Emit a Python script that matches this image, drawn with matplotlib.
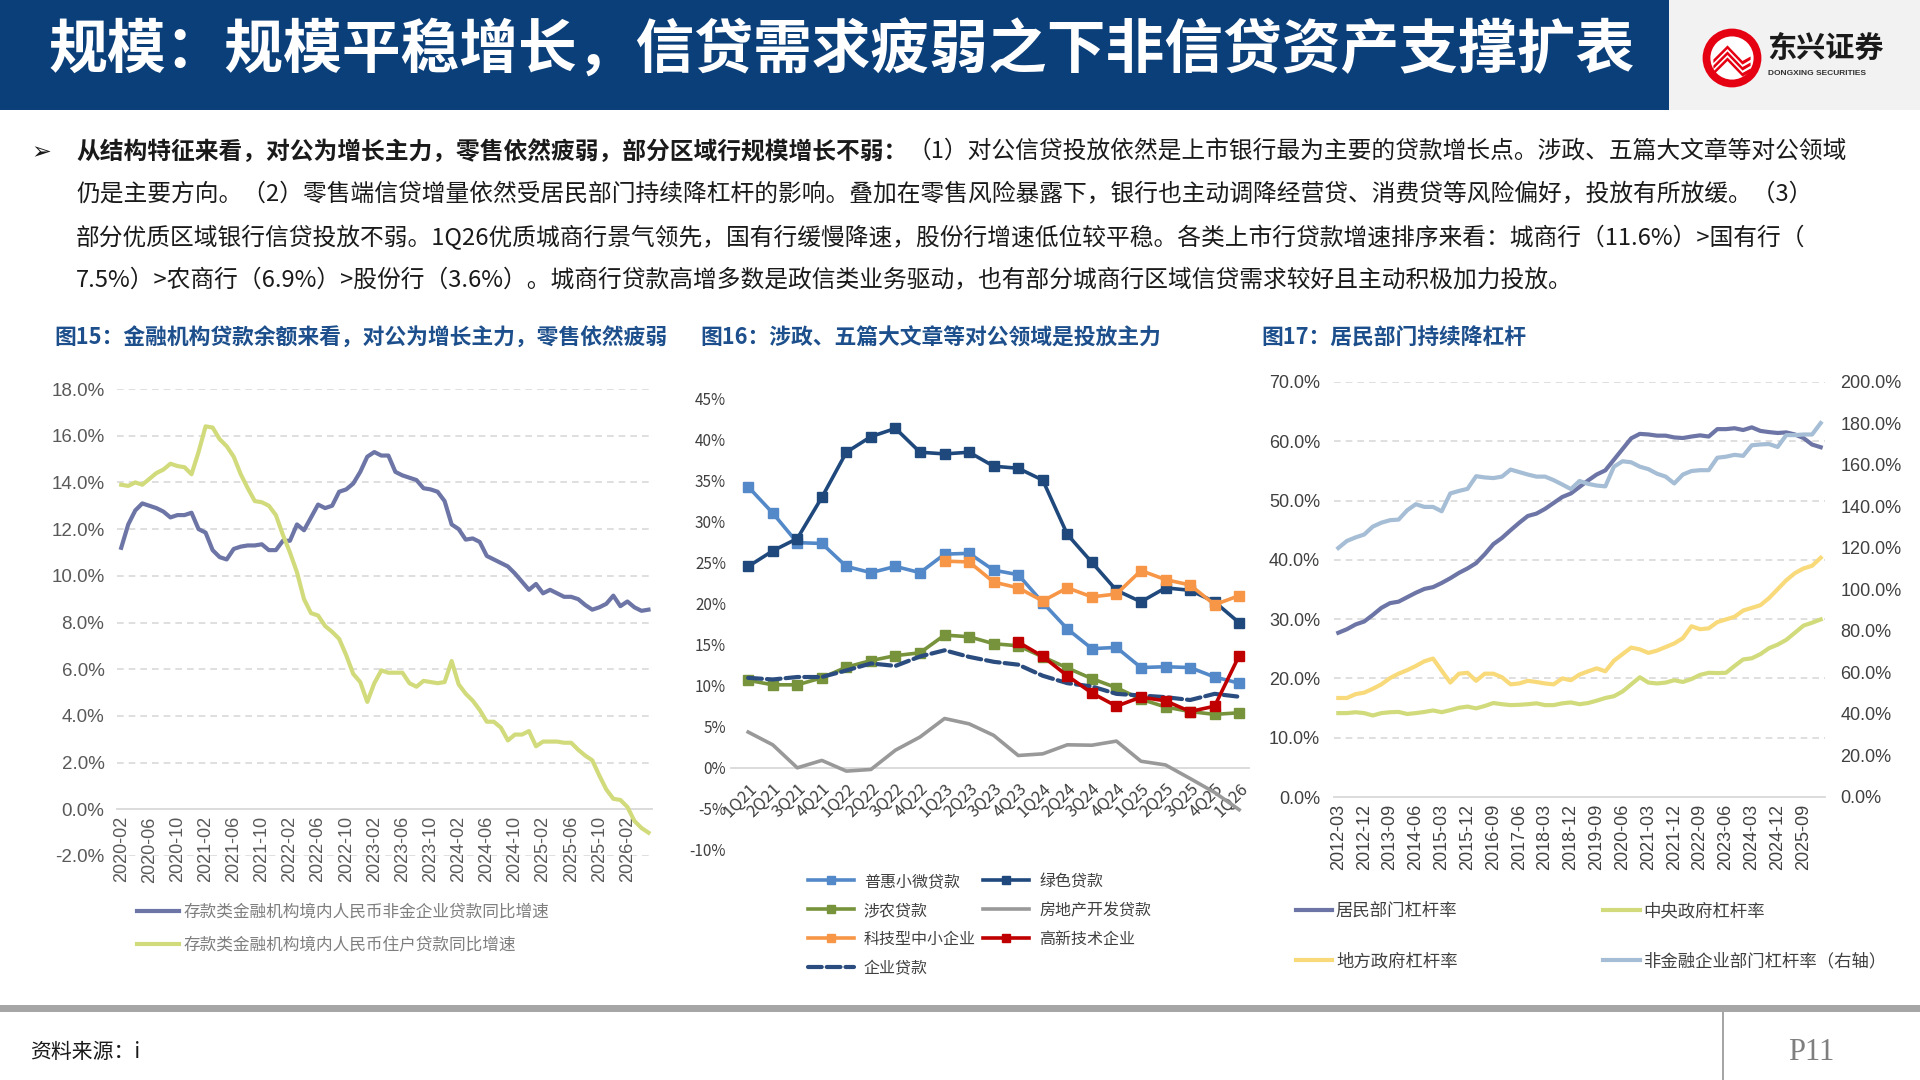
import matplotlib
matplotlib.use('Agg')
import matplotlib.pyplot as plt
from matplotlib.patches import Rectangle, Circle, Polygon
import numpy as np
import pandas as pd

plt.rcParams['font.family'] = ['Noto Sans CJK SC', 'DejaVu Sans']
plt.rcParams['axes.unicode_minus'] = False

# ---------------- data ----------------
# Fig 15 (monthly, 2020-02 .. 2026-05)
months15 = [p.strftime('%Y-%m') for p in pd.period_range('2020-02', '2026-05', freq='M')]
corp_loan_yoy = [11.2, 12.2, 12.8, 13.1, 13.0, 12.9, 12.75, 12.5, 12.6, 12.6, 12.7,
                 12.0, 11.85, 11.1, 10.8, 10.7, 11.15, 11.25, 11.3, 11.3, 11.35, 11.1, 11.1,
                 11.5, 11.5, 12.2, 11.95, 12.5, 13.05, 12.9, 13.0, 13.6, 13.7, 13.95, 14.45,
                 15.1, 15.3, 15.15, 15.15, 14.45, 14.3, 14.2, 14.1, 13.75, 13.7, 13.6, 13.2,
                 12.2, 12.0, 11.55, 11.6, 11.45, 10.85, 10.7, 10.55, 10.4, 10.1, 9.75, 9.4,
                 9.65, 9.25, 9.4, 9.25, 9.1, 9.1, 9.0, 8.75, 8.55, 8.65, 8.8, 9.15,
                 8.7, 8.9, 8.65, 8.5, 8.55]
household_loan_yoy = [13.9, 13.85, 14.0, 13.9, 14.15, 14.4, 14.55, 14.8, 14.7, 14.65, 14.35,
                      15.3, 16.4, 16.35, 15.85, 15.55, 15.1, 14.35, 13.75, 13.2, 13.15, 13.0, 12.6,
                      11.75, 11.0, 10.15, 9.0, 8.4, 8.3, 7.85, 7.6, 7.3, 6.6, 5.8, 5.45,
                      4.6, 5.4, 5.95, 5.85, 5.85, 5.85, 5.4, 5.25, 5.5, 5.45, 5.4, 5.45,
                      6.35, 5.35, 4.95, 4.65, 4.25, 3.75, 3.75, 3.5, 2.95, 3.2, 3.2, 3.35,
                      2.7, 2.9, 2.9, 2.9, 2.85, 2.85, 2.55, 2.3, 2.1, 1.45, 0.85, 0.45,
                      0.4, 0.1, -0.5, -0.8, -1.0]
names15 = ['存款类金融机构境内人民币非金企业贷款同比增速', '存款类金融机构境内人民币住户贷款同比增速']

# Fig 16 (quarterly, 1Q21 .. 1Q26)
quarters16 = ['1Q21', '2Q21', '3Q21', '4Q21', '1Q22', '2Q22', '3Q22', '4Q22', '1Q23', '2Q23', '3Q23',
              '4Q23', '1Q24', '2Q24', '3Q24', '4Q24', '1Q25', '2Q25', '3Q25', '4Q25', '1Q26']
inclusive_sme = [34.2, 31.0, 27.4, 27.3, 24.5, 23.75, 24.5, 23.75, 26.0, 26.1, 24.05,
                 23.5, 20.1, 16.9, 14.5, 14.65, 12.2, 12.3, 12.2, 11.05, 10.3]
green_loan = [24.5, 26.4, 27.9, 32.9, 38.4, 40.3, 41.3, 38.4, 38.2, 38.4, 36.7,
              36.45, 35.0, 28.4, 25.0, 21.6, 20.2, 21.9, 21.6, 20.2, 17.65]
agri_loan = [10.65, 10.1, 10.1, 10.95, 12.25, 13.05, 13.65, 14.0, 16.15, 15.95, 15.1,
             14.85, 13.5, 12.15, 10.85, 9.75, 8.35, 7.4, 6.85, 6.5, 6.7]
real_estate_loan = [4.35, 2.8, 0.0, 0.9, -0.4, -0.2, 2.15, 3.75, 6.0, 5.35, 3.95,
                    1.5, 1.7, 2.8, 2.75, 3.25, 0.8, 0.35, -1.3, -3.0, -5.1]
tech_sme_start = '1Q23'
tech_sme = [25.15, 25.05, 22.6, 21.9, 20.3, 21.9, 20.8, 21.15, 24.0, 22.9, 22.25, 19.85, 20.95]
hitech_start = '4Q23'
hitech = [15.3, 13.55, 11.2, 9.1, 7.5, 8.6, 8.15, 6.85, 7.5, 13.65]
corp_loan_q = [10.95, 10.75, 11.05, 11.05, 11.85, 12.7, 12.4, 13.55, 14.3, 13.5, 12.9,
               12.55, 11.2, 10.3, 9.9, 9.0, 8.8, 8.6, 8.25, 9.0, 8.65]

# Fig 17 (quarterly, 2012-03 .. 2026-03)
quarters17 = [p.strftime('%Y-%m') for p in pd.period_range('2012-03', '2026-03', freq='Q-DEC').to_timestamp(how='end')]
household_lev = [27.7, 28.3, 29.1, 29.6, 30.7, 31.9, 32.7, 32.95, 33.7, 34.45, 35.1, 35.4,
                 36.1, 36.9, 37.8, 38.55, 39.45, 40.95, 42.65, 43.7, 45.0, 46.25, 47.4, 47.8,
                 48.6, 49.6, 50.6, 51.2, 52.3, 53.4, 54.4, 55.1, 56.9, 58.7, 60.5, 61.25,
                 61.15, 60.95, 60.95, 60.65, 60.55, 60.8, 61.0, 60.8, 62.05, 62.05, 62.2, 61.9,
                 62.35, 61.75, 61.55, 61.4, 61.5, 61.15, 60.55, 59.45, 59.0]
central_gov_lev = [14.15, 14.15, 14.3, 14.15, 13.75, 14.15, 14.3, 14.35, 14.0, 14.15, 14.35, 14.6,
                   14.3, 14.65, 15.05, 15.25, 14.95, 15.35, 15.85, 15.65, 15.5, 15.55, 15.65, 15.8,
                   15.5, 15.5, 15.8, 15.95, 15.65, 15.85, 16.25, 16.7, 17.0, 17.8, 19.0, 20.2,
                   19.3, 19.15, 19.3, 19.7, 19.4, 19.9, 20.6, 20.95, 20.9, 20.95, 22.1, 23.2,
                   23.4, 24.1, 25.1, 25.7, 26.5, 27.7, 28.9, 29.4, 29.95]
local_gov_lev = [16.7, 16.7, 17.35, 17.6, 18.25, 19.0, 20.05, 20.8, 21.4, 22.1, 22.9, 23.35,
                 21.3, 19.3, 20.8, 20.95, 19.6, 20.8, 20.8, 20.2, 19.0, 19.15, 19.6, 19.4,
                 19.15, 19.0, 20.0, 19.7, 20.65, 21.2, 21.7, 21.2, 23.0, 24.1, 25.2, 24.9,
                 24.3, 24.7, 25.3, 25.9, 26.8, 28.8, 28.3, 28.45, 29.5, 29.95, 30.4, 31.45,
                 31.9, 32.35, 33.55, 35.05, 36.55, 37.75, 38.55, 39.0, 40.35]
nonfin_corp_lev = [120.0, 123.4, 125.1, 126.5, 130.3, 132.2, 133.4, 133.7, 138.2, 141.1, 139.8, 139.8,
                   137.7, 146.3, 147.5, 148.5, 154.6, 154.0, 153.7, 154.4, 157.8, 156.6, 155.4, 154.4,
                   154.4, 152.7, 150.6, 148.4, 152.3, 150.9, 150.1, 149.7, 159.2, 161.8, 161.3, 159.2,
                   158.0, 155.8, 154.4, 151.1, 155.4, 157.1, 157.5, 157.5, 163.5, 164.0, 164.9, 164.4,
                   169.5, 169.9, 170.1, 168.7, 174.4, 174.4, 174.7, 174.7, 180.2]

# ---------------- figure ----------------
W, H = 1920, 1080
fig = plt.figure(figsize=(19.2, 10.8), dpi=100)


def fx(px):
    return px / W


def fy(py):
    return 1 - py / H


TICKFONT = ['Liberation Sans', 'DejaVu Sans']

# header
fig.patches.append(Rectangle((0, fy(110)), fx(1669), 110 / H, transform=fig.transFigure,
                             facecolor='#0a3f7a', edgecolor='none', zorder=0))
fig.patches.append(Rectangle((fx(1669), fy(110)), 1 - fx(1669), 110 / H, transform=fig.transFigure,
                             facecolor='#f2f2f2', edgecolor='none', zorder=0))
fig.text(fx(48), fy(52), '规模：规模平稳增长，信贷需求疲弱之下非信贷资产支撑扩表', fontsize=42.3,
         fontweight='bold', color='white', ha='left', va='center')

# logo
lax = fig.add_axes([fx(1702), fy(88), 60 / W, 60 / H], zorder=10)
lax.set_xlim(-1, 1)
lax.set_ylim(-1, 1)
lax.set_aspect('equal')
lax.axis('off')
lax.add_patch(Circle((0, 0), 0.98, facecolor='#e50012', edgecolor='none'))
lax.add_patch(Circle((0, 0), 0.72, facecolor='white', edgecolor='none'))
for k in range(3):
    off = 0.2 * k
    lax.add_patch(Polygon([[-0.62, -0.05 - off], [-0.15, 0.42 - off], [0.35, -0.1 - off],
                           [0.62, 0.05 - off], [0.62, -0.06 - off], [0.35, -0.22 - off],
                           [-0.15, 0.3 - off], [-0.62, -0.17 - off]],
                          closed=True, facecolor='#e50012', edgecolor='none'))
fig.text(fx(1767), fy(48), '东兴证券', fontsize=21, fontweight='bold', color='#1a1a1a', ha='left', va='center')
fig.text(fx(1768), fy(73), 'DONGXING SECURITIES', fontsize=6, fontweight='bold', color='#333333',
         ha='left', va='center', family=TICKFONT)

# body text
renderer = fig.canvas.get_renderer()
BODY_FS = 17.1
fig.text(fx(31), fy(152), '➢', fontsize=17, color='#1a1a1a', ha='left', va='center',
         family=['DejaVu Sans'])
line1_bold = '从结构特征来看，对公为增长主力，零售依然疲弱，部分区域行规模增长不弱：'
line1_rest = '（1）对公信贷投放依然是上市银行最为主要的贷款增长点。涉政、五篇大文章等对公领域'
body_lines = ['仍是主要方向。（2）零售端信贷增量依然受居民部门持续降杠杆的影响。叠加在零售风险暴露下，银行也主动调降经营贷、消费贷等风险偏好，投放有所放缓。（3）',
              '部分优质区域银行信贷投放不弱。1Q26优质城商行景气领先，国有行缓慢降速，股份行增速低位较平稳。各类上市行贷款增速排序来看：城商行（11.6%）>国有行（',
              '7.5%）>农商行（6.9%）>股份行（3.6%）。城商行贷款高增多数是政信类业务驱动，也有部分城商行区域信贷需求较好且主动积极加力投放。']
tb = fig.text(fx(76), fy(152), line1_bold, fontsize=BODY_FS, fontweight='bold', color='#1a1a1a',
              ha='left', va='center')
bb = tb.get_window_extent(renderer)
fig.text(bb.x1 / W, fy(152), line1_rest, fontsize=BODY_FS, color='#1a1a1a', ha='left', va='center')
for i, ln in enumerate(body_lines):
    fig.text(fx(76), fy(152 + 43 * (i + 1)), ln, fontsize=BODY_FS, color='#1a1a1a', ha='left', va='center')

# chart titles
TITLE_C = '#1c4f8c'
fig.text(fx(54), fy(338), '图15：金融机构贷款余额来看，对公为增长主力，零售依然疲弱', fontsize=15.7,
         fontweight='bold', color=TITLE_C, ha='left', va='center')
fig.text(fx(700), fy(338), '图16：涉政、五篇大文章等对公领域是投放主力', fontsize=15.7,
         fontweight='bold', color=TITLE_C, ha='left', va='center')
fig.text(fx(1261), fy(338), '图17：居民部门持续降杠杆', fontsize=15.7,
         fontweight='bold', color=TITLE_C, ha='left', va='center')

# ---------------- Fig 15 ----------------
ax1 = fig.add_axes([fx(117), fy(856), (652 - 117) / W, (856 - 389) / H])
x1 = np.arange(len(months15))
l1, = ax1.plot(x1, corp_loan_yoy, color='#6c75a5', lw=3, solid_joinstyle='round', label=names15[0], zorder=3)
l2, = ax1.plot(x1, household_loan_yoy, color='#d2db7c', lw=3, solid_joinstyle='round', label=names15[1], zorder=3)
ax1.set_xlim(-0.6, len(months15) - 0.5)
ax1.set_ylim(-2, 18)
yt1 = np.arange(-2, 19, 2)
ax1.set_yticks(yt1)
ax1.set_yticklabels([f'{v:.1f}%' for v in yt1], family=TICKFONT, fontsize=13.5, color='#595959')
for v in yt1:
    if v != 0:
        ax1.axhline(v, color='#d9d9d9', lw=1.2, ls=(0, (4, 3)), zorder=1)
for s in ['top', 'right', 'left']:
    ax1.spines[s].set_visible(False)
ax1.spines['bottom'].set_position(('data', 0))
ax1.spines['bottom'].set_color('#d9d9d9')
ax1.spines['bottom'].set_linewidth(1.3)
ax1.set_xticks(x1[::4])
ax1.set_xticklabels([months15[i] for i in x1[::4]], rotation=90, family=TICKFONT, fontsize=13,
                    color='#595959')
ax1.tick_params(length=0)
ax1.tick_params(axis='x', pad=5)
ax1.tick_params(axis='y', pad=9)
ax1.legend(handles=[l1, l2], loc='upper left', bbox_to_anchor=(fx(137), fy(904)),
           bbox_transform=fig.transFigure, frameon=False, fontsize=12, labelcolor='#7f7f7f',
           handlelength=2.5, handletextpad=0.3, labelspacing=0.95, borderpad=0, borderaxespad=0)

# ---------------- Fig 16 ----------------
ax2 = fig.add_axes([fx(731), fy(850), 518 / W, 452 / H])
q = np.arange(len(quarters16))
i_t = quarters16.index(tech_sme_start)
i_h = quarters16.index(hitech_start)
MS = 7.5
h_ph, = ax2.plot(q, inclusive_sme, color='#5389c8', lw=2.6, marker='s', ms=MS, label='普惠小微贷款', zorder=3)
h_ag, = ax2.plot(q, agri_loan, color='#77933c', lw=2.6, marker='s', ms=MS, label='涉农贷款', zorder=3)
h_re, = ax2.plot(q, real_estate_loan, color='#999999', lw=2.6, label='房地产开发贷款', zorder=3)
h_ce, = ax2.plot(q, corp_loan_q, color='#2b4c7e', lw=3, ls=(0, (3.3, 1.2)), dash_capstyle='round',
                 label='企业贷款', zorder=3)
h_gr, = ax2.plot(q, green_loan, color='#1f497d', lw=2.6, marker='s', ms=MS, label='绿色贷款', zorder=4)
h_te, = ax2.plot(q[i_t:i_t + len(tech_sme)], tech_sme, color='#f79646', lw=2.6, marker='s', ms=MS,
                 label='科技型中小企业', zorder=4)
h_hi, = ax2.plot(q[i_h:i_h + len(hitech)], hitech, color='#c00000', lw=2.6, marker='s', ms=MS,
                 label='高新技术企业', zorder=5)
ax2.set_xlim(-0.7, len(quarters16) - 0.6)
ax2.set_ylim(-10, 45)
yt2 = np.arange(-10, 46, 5)
ax2.set_yticks(yt2)
ax2.set_yticklabels([f'{v}%' for v in yt2], fontsize=11, color='#404040')
for s in ['top', 'right', 'left']:
    ax2.spines[s].set_visible(False)
ax2.spines['bottom'].set_position(('data', 0))
ax2.spines['bottom'].set_color('#d9d9d9')
ax2.spines['bottom'].set_linewidth(1.3)
ax2.set_xticks(q)
ax2.set_xticklabels(quarters16, rotation=45, ha='right', va='top', rotation_mode='anchor',
                    fontsize=12, color='#404040')
ax2.tick_params(length=0)
ax2.tick_params(axis='x', pad=9)
ax2.legend(handles=[h_ph, h_ag, h_te, h_ce, h_gr, h_re, h_hi], ncol=2, loc='upper left',
           bbox_to_anchor=(fx(808), fy(873)), bbox_transform=fig.transFigure, frameon=False,
           fontsize=11.5, labelcolor='#404040', handlelength=2.9, handletextpad=0.6,
           labelspacing=0.75, columnspacing=0.45, borderpad=0, borderaxespad=0, numpoints=1,
           markerscale=0.8)

# ---------------- Fig 17 ----------------
ax3 = fig.add_axes([fx(1334), fy(797), 491 / W, 415 / H])
ax3r = ax3.twinx()
x3 = np.arange(len(quarters17))
g1, = ax3.plot(x3, household_lev, color='#6c75a5', lw=3, label='居民部门杠杆率', zorder=3)
g2, = ax3.plot(x3, central_gov_lev, color='#d2db7c', lw=3, label='中央政府杠杆率', zorder=3)
g3, = ax3.plot(x3, local_gov_lev, color='#f8da7b', lw=3, label='地方政府杠杆率', zorder=3)
g4, = ax3r.plot(x3, nonfin_corp_lev, color='#a5bdd5', lw=3, label='非金融企业部门杠杆率（右轴）', zorder=3)
ax3.set_xlim(-0.5, len(quarters17) - 0.5)
ax3.set_ylim(0, 70)
ax3r.set_ylim(0, 200)
yt3 = np.arange(0, 71, 10)
ax3.set_yticks(yt3)
ax3.set_yticklabels([f'{v:.1f}%' for v in yt3], family=TICKFONT, fontsize=13, color='#404040')
yt3r = np.arange(0, 201, 20)
ax3r.set_yticks(yt3r)
ax3r.set_yticklabels([f'{v:.1f}%' for v in yt3r], family=TICKFONT, fontsize=13, color='#404040')
for v in yt3[1:]:
    ax3.axhline(v, color='#d9d9d9', lw=1.2, ls=(0, (4, 3)), zorder=1)
for a in (ax3, ax3r):
    for s in ['top', 'right', 'left']:
        a.spines[s].set_visible(False)
    a.spines['bottom'].set_color('#d9d9d9')
    a.spines['bottom'].set_linewidth(1.3)
    a.tick_params(length=0)
ax3r.spines['bottom'].set_visible(False)
ax3.set_xticks(x3[::3])
ax3.set_xticklabels([quarters17[i] for i in x3[::3]], rotation=90, family=TICKFONT, fontsize=13,
                    color='#404040')
ax3.tick_params(axis='x', pad=5)
ax3.tick_params(axis='y', pad=10)
ax3r.tick_params(axis='y', pad=11)
ax3r.legend(handles=[g1, g3, g2, g4], ncol=2, loc='upper left', bbox_to_anchor=(fx(1296), fy(902)),
            bbox_transform=fig.transFigure, frameon=False, fontsize=12.5, labelcolor='#404040',
            handlelength=2.1, handletextpad=0.2, labelspacing=1.85, columnspacing=8.4,
            borderpad=0, borderaxespad=0)

# footer
fig.patches.append(Rectangle((0, fy(1012)), 1, 7 / H, transform=fig.transFigure,
                             facecolor='#a6a6a6', edgecolor='none'))
fig.patches.append(Rectangle((fx(1722), 0), 2 / W, fy(1012), transform=fig.transFigure,
                             facecolor='#a6a6a6', edgecolor='none'))
fig.text(fx(30), fy(1052), '资料来源：i', fontsize=15, style='italic', color='#1a1a1a', ha='left', va='center')
fig.text(fx(1788), fy(1052), 'P11', fontsize=22, color='#7f7f7f', ha='left', va='center',
         family=['Liberation Serif', 'DejaVu Serif'])

fig.savefig('out.png', dpi=100)
